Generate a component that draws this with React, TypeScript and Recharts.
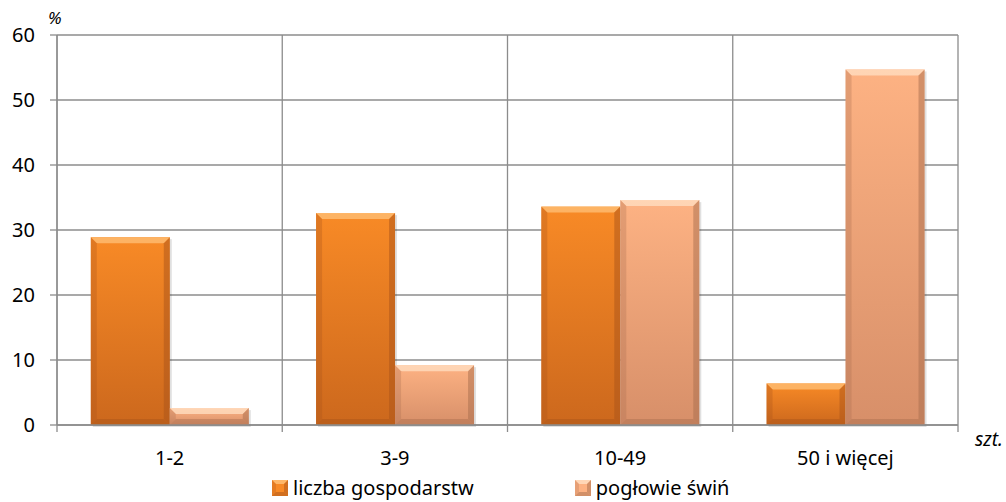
import { BarChart, Bar, XAxis, YAxis, CartesianGrid } from 'recharts';

const categories = ['1-2', '3-9', '10-49', '50 i więcej'];
const gospodarstwa = [28.9, 32.6, 33.6, 6.4];
const poglowie = [2.6, 9.2, 34.6, 54.7];
const yTicks = [0, 10, 20, 30, 40, 50, 60];

const SERIES = [
  { key: 'gosp', name: 'liczba gospodarstw', top: '#F88A26', bottom: '#CC681D', light: '#FFC27A', dark: '#A9541A' },
  { key: 'poglowie', name: 'pogłowie świń', top: '#FDB283', bottom: '#D78F69', light: '#FFE0C4', dark: '#A86D4E' },
];

const data = categories.map((c, i) => ({ name: c, gosp: gospodarstwa[i], poglowie: poglowie[i] }));

const FONT = '"Noto Sans", sans-serif';
const BAND = 901 / 4;

function bevelShape(s: typeof SERIES[number]) {
  return (props: any) => {
    const { x, y, width: w, height: h } = props;
    if (!h || h <= 0) return <g />;
    const b = Math.min(6, h / 2, w / 2);
    return (
      <g>
        <rect x={x + 2} y={y + 2} width={w} height={h} fill="#000" opacity={0.12} />
        <rect x={x} y={y} width={w} height={h} fill={`url(#grad-${s.key})`} />
        <polygon points={`${x},${y} ${x + w},${y} ${x + w - b},${y + b} ${x + b},${y + b}`} fill={s.light} opacity={0.75} />
        <polygon points={`${x},${y} ${x + b},${y + b} ${x + b},${y + h - b} ${x},${y + h}`} fill={s.dark} opacity={0.3} />
        <polygon points={`${x + w},${y} ${x + w - b},${y + b} ${x + w - b},${y + h - b} ${x + w},${y + h}`} fill={s.dark} opacity={0.5} />
        <polygon points={`${x},${y + h} ${x + b},${y + h - b} ${x + w - b},${y + h - b} ${x + w},${y + h}`} fill={s.dark} opacity={0.45} />
      </g>
    );
  };
}

const XTick = (props: any) => {
  const { x, y, payload } = props;
  const bx = x + BAND / 2;
  return (
    <g>
      <text x={x} y={y + 32} textAnchor="middle" fontSize={20} fontFamily={FONT} fill="#000">
        {payload.value}
      </text>
      <line x1={bx} x2={bx} y1={y - 8} y2={y - 1} stroke="#8c8c8c" strokeWidth={1.3} />
      {payload.index === 0 && <line x1={57} x2={57} y1={y - 8} y2={y - 1} stroke="#8c8c8c" strokeWidth={1.3} />}
    </g>
  );
};

const LegendBox = () => (
  <div style={{ position: 'absolute', left: 272, top: 476, display: 'flex', gap: 101, fontFamily: FONT, fontSize: 20, color: '#000', lineHeight: '24px' }}>
    {SERIES.map(s => (
      <div key={s.key} style={{ display: 'flex', alignItems: 'center', gap: 5 }}>
        <svg width={16} height={16}>
          <rect x={0} y={0} width={16} height={16} fill={s.top} />
          <polygon points="0,0 16,0 12,4 4,4" fill={s.light} opacity={0.8} />
          <polygon points="0,16 4,12 12,12 16,16" fill={s.dark} opacity={0.5} />
          <polygon points="16,0 12,4 12,12 16,16" fill={s.dark} opacity={0.5} />
          <polygon points="0,0 4,4 4,12 0,16" fill={s.dark} opacity={0.25} />
        </svg>
        <span>{s.name}</span>
      </div>
    ))}
  </div>
);

export default function App() {
  return (
    <div style={{ position: 'absolute', left: 0, top: 0, width: 1006, height: 502, background: '#fff' }}>
      <BarChart
        width={1006}
        height={502}
        data={data}
        margin={{ top: 35, right: 48, bottom: 47, left: 0 }}
        barCategoryGap="15%"
        barGap={0}
      >
        <defs>
          {SERIES.map(s => (
            <linearGradient key={s.key} id={`grad-${s.key}`} x1="0" y1="0" x2="0" y2="1">
              <stop offset="0%" stopColor={s.top} />
              <stop offset="100%" stopColor={s.bottom} />
            </linearGradient>
          ))}
        </defs>
        <CartesianGrid
          stroke="#8c8c8c"
          strokeWidth={1.3}
          verticalCoordinatesGenerator={({ offset }: any) =>
            [0, 1, 2, 3, 4].map(i => offset.left + (i * offset.width) / 4)
          }
        />
        <XAxis
          dataKey="name"
          height={30}
          tick={<XTick />}
          tickLine={false}
          axisLine={{ stroke: '#8c8c8c', strokeWidth: 1.3 }}
          interval={0}
        />
        <YAxis
          width={57}
          domain={[0, 60]}
          ticks={yTicks}
          tickSize={7}
          tickMargin={15}
          tickLine={{ stroke: '#8c8c8c', strokeWidth: 1.3 }}
          axisLine={{ stroke: '#8c8c8c', strokeWidth: 1.3 }}
          tick={{ fontSize: 20, fontFamily: FONT, fill: '#000' }}
        />
        {SERIES.map(s => (
          <Bar key={s.key} dataKey={s.key} name={s.name} fill={s.top} shape={bevelShape(s)} isAnimationActive={false} />
        ))}
      </BarChart>
      <LegendBox />
      <div style={{ position: 'absolute', left: 48, top: 6, fontFamily: FONT, fontSize: 17, fontStyle: 'italic' }}>%</div>
      <div style={{ position: 'absolute', left: 975, top: 426, fontFamily: FONT, fontSize: 19, fontStyle: 'italic' }}>szt.</div>
    </div>
  );
}
